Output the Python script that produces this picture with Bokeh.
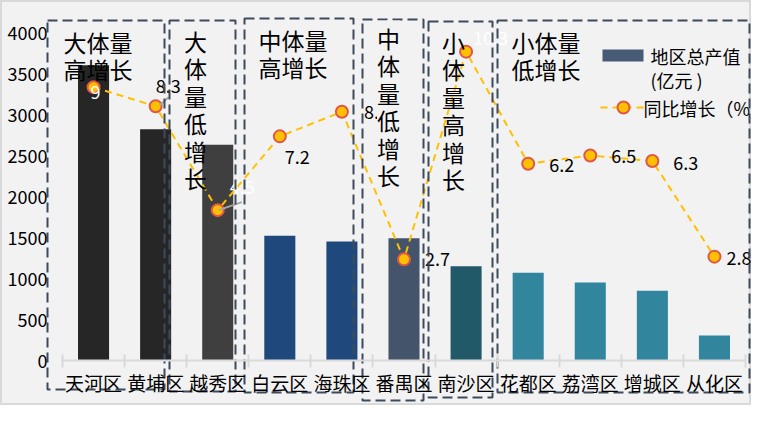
from bokeh.plotting import figure
from bokeh.models import Range1d, LinearAxis, FixedTicker, ColumnDataSource
from bokeh.embed import file_html
from bokeh.resources import INLINE
from bokeh.core.properties import value

# ---------------- data ----------------
districts = ["天河区", "黄埔区", "越秀区", "白云区", "海珠区", "番禺区",
             "南沙区", "花都区", "荔湾区", "增城区", "从化区"]
gdp = [3600, 2820, 2630, 1520, 1450, 1490, 1150, 1070, 950, 850, 305]
growth = [9.0, 8.3, 4.5, 7.2, 8.1, 2.7, 10.3, 6.2, 6.5, 6.3, 2.8]
growth_labels = ["9", "8.3", "4.5", "7.2", "8.1", "2.7", "10.3", "6.2", "6.5", "6.3", "2.8"]
y_ticks = [0, 500, 1000, 1500, 2000, 2500, 3000, 3500, 4000]
group_names = ["大体量\n高增长", "大\n体\n量\n低\n增\n长", "中体量\n高增长",
               "中\n体\n量\n低\n增\n长", "小\n体\n量\n高\n增\n长", "小体量\n低增长"]
legend_bar = "地区总产值\n(亿元 )"
legend_line = "同比增长（%"

# ---------------- styles ----------------
bar_colors = ["#262626", "#262626", "#3f3f3f", "#1f497d", "#1f497d", "#44546a",
              "#215968", "#31859c", "#31859c", "#31859c", "#31859c"]
lbl_dx = [-3, 0, 12, 5, 22, 21, 7, 21, 21, 21, 12]
lbl_dy = [5, -20, -23, 21, 0, 0, -14, 1, 0, 2, 1]
lbl_col = ["white", "black", "white", "black", "black", "black", "white",
           "black", "black", "black", "black"]
FONT = value("Noto Sans CJK SC")
BOX_COL = "#3c4a5c"

W, H = 751, 405
OFF = 0
X0, CW = 62.0, 683.0 / 11    # figure px of x=0, px per category
Y0, PY = 360.0, 328.0 / 4000  # figure px of y=0, px per unit
PG = 328.0 / 12              # px per growth unit, g=-1 at Y0


def fx(ox):   # reference px -> data x
    return (ox - OFF - X0) / CW


def fy(oy):   # reference px -> data y
    return (Y0 - (oy - OFF)) / PY


p = figure(width=W, height=H, output_backend="svg", toolbar_location=None,
           x_range=Range1d(-X0 / CW, (W - X0) / CW),
           y_range=Range1d(-(H - Y0) / PY, Y0 / PY),
           x_axis_location=None, y_axis_location=None, min_border=0)
p.extra_y_ranges = {"g": Range1d(-1 - (H - Y0) / PG, -1 + Y0 / PG)}
p.background_fill_color = "#f2f2f2"
p.border_fill_color = "#f2f2f2"
p.outline_line_color = "#d9d9d9"
p.outline_line_width = 3
p.grid.visible = False

centers = [i + 0.5 for i in range(len(districts))]

# axes
xaxis = LinearAxis(ticker=FixedTicker(ticks=centers, minor_ticks=list(range(len(districts) + 1))),
                   major_label_overrides={c: d for c, d in zip(centers, districts)},
                   fixed_location=0, bounds=(0, len(districts)))
xaxis.axis_line_color = "#d9d9d9"
xaxis.axis_line_width = 2
xaxis.major_tick_line_color = None
xaxis.major_tick_in = 0
xaxis.major_tick_out = 0
xaxis.minor_tick_line_color = "#d9d9d9"
xaxis.minor_tick_line_width = 2
xaxis.minor_tick_in = 6
xaxis.minor_tick_out = 7
xaxis.major_label_standoff = 1
xaxis.major_label_text_font = "Noto Sans CJK SC"
xaxis.major_label_text_font_size = "19px"
xaxis.major_label_text_color = "black"
p.add_layout(xaxis, "below")

yaxis = LinearAxis(ticker=FixedTicker(ticks=y_ticks, minor_ticks=[]), fixed_location=0)
yaxis.axis_line_color = None
yaxis.major_tick_line_color = None
yaxis.minor_tick_line_color = None
yaxis.major_tick_in = 0
yaxis.major_tick_out = 0
yaxis.major_label_standoff = 15
yaxis.major_label_text_font = "Noto Sans CJK SC"
yaxis.major_label_text_font_size = "18px"
yaxis.major_label_text_color = "black"
p.add_layout(yaxis, "left")

# bars
p.vbar(x=centers, top=gdp, bottom=0, width=0.5, fill_color=bar_colors, line_color=None)

# growth line
p.line(centers, growth, y_range_name="g", line_color="#ffc000", line_width=2, line_dash="7 5")
p.scatter(centers, growth, y_range_name="g", size=12, fill_color="#ffc000",
          line_color="#e0574a", line_width=2)

# leader lines (8.3 and 4.5)
leaders = {1: (4, -1, 13, -9), 2: (1, 0, 24, -8)}
for i, (a, b, c, d) in leaders.items():
    p.segment(x0=[centers[i] + a / CW], y0=[growth[i] - b / PG],
              x1=[centers[i] + c / CW], y1=[growth[i] - d / PG],
              y_range_name="g", line_color="#a6a6a6", line_width=2)

lsrc = ColumnDataSource(dict(x=centers, y=growth, t=growth_labels, dx=lbl_dx, dy=lbl_dy, c=lbl_col))
p.text(x="x", y="y", text="t", source=lsrc, y_range_name="g", x_offset="dx", y_offset="dy",
       text_color="c", text_align="left", text_baseline="middle",
       text_font=FONT, text_font_size="18px")

# group boxes (reference px)
boxes = [(47, 164, 20, 389), (169, 235, 20, 391), (244, 353, 18, 392),
         (362, 423, 19, 400), (428, 492, 21, 397), (497, 749, 20, 392)]
p.quad(left=[fx(b[0]) for b in boxes], right=[fx(b[1]) for b in boxes],
       top=[fy(b[2]) for b in boxes], bottom=[fy(b[3]) for b in boxes],
       fill_color=None, line_color=BOX_COL, line_width=2, line_dash="10 5")

# group texts
gpos = [(63, 24, "left"), (195, 23, "center"), (258, 22, "left"),
        (388, 20, "center"), (453, 24, "center"), (511, 24, "left")]
for i, (name, (gx, gy, al)) in enumerate(zip(group_names, gpos)):
    kw = {}
    if i == 3:
        kw = dict(background_fill_color="#f2f2f2")
    p.text(x=[fx(gx)], y=[fy(gy)], text=[name], text_align=al, text_baseline="top",
           text_font=FONT, text_font_size="23px", text_color="black",
           text_line_height=0.81, **kw)

# legend
p.quad(left=[fx(602)], right=[fx(643)], top=[fy(49)], bottom=[fy(61)],
       fill_color="#475b76", line_color=None)
p.text(x=[fx(650)], y=[fy(42)], text=[legend_bar], text_align="left", text_baseline="top",
       text_font=FONT, text_font_size="18px", text_color="black", text_line_height=0.95)
p.line([fx(600), fx(645)], [fy(107), fy(107)], line_color="#ffc000", line_width=2, line_dash="7 5")
p.scatter([fx(623)], [fy(107)], size=12, fill_color="#ffc000", line_color="#e0574a", line_width=2)
p.text(x=[fx(643)], y=[fy(107)], text=[legend_line], text_align="left", text_baseline="middle",
       text_font=FONT, text_font_size="18px", text_color="black")

open("out.html", "w").write(file_html(p, INLINE))
